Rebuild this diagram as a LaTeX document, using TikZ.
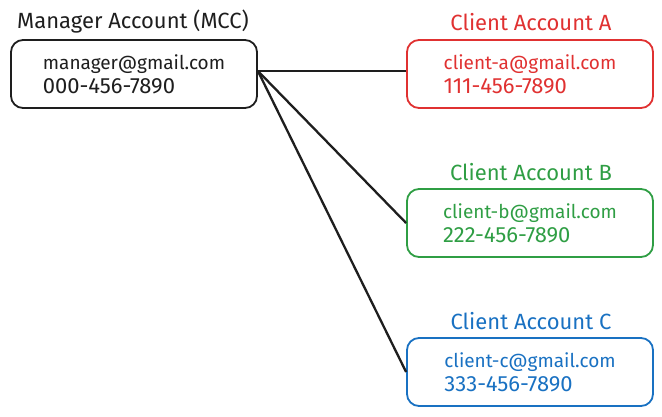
\documentclass[tikz,border=0pt]{standalone}
\usepackage{fontspec}
\setmainfont{Fira Sans}
\usetikzlibrary{positioning}
\definecolor{mccblack}{HTML}{1E1E1E}
\definecolor{clientred}{HTML}{E03131}
\definecolor{clientgreen}{HTML}{2F9E44}
\definecolor{clientblue}{HTML}{1971C2}
\newcommand{\phonenum}[1]{{\fontsize{22}{24}\selectfont #1}}
\begin{document}
\begin{tikzpicture}[x=1pt,y=-1pt,
	account/.style={draw, line width=1.8pt, rounded corners=12pt, minimum width=246pt, minimum height=68pt, align=left, font=\fontsize{19}{24}\selectfont},
	heading/.style={font=\fontsize{22}{24}\selectfont},
	link/.style={draw=mccblack, line width=2.3pt}]
	\useasboundingbox (0,0) rectangle (662,416);
	\node[account, draw=mccblack, text=mccblack] (manager) at (134,74) {manager@gmail.com\\\phonenum{000-456-7890}};
	\node[account, draw=clientred, text=clientred] (clienta) at (530,74) {client-a@gmail.com\\\phonenum{111-456-7890}};
	\node[account, draw=clientgreen, text=clientgreen] (clientb) at (530,223) {client-b@gmail.com\\\phonenum{222-456-7890}};
	\node[account, draw=clientblue, text=clientblue] (clientc) at (530,372) {client-c@gmail.com\\\phonenum{333-456-7890}};
	\node[heading, text=mccblack] (managertitle) at (133,22) {Manager Account (MCC)};
	\node[heading, text=clientred] (clientatitle) at (531,22) {Client Account A};
	\node[heading, text=clientgreen] (clientbtitle) at (531,172) {Client Account B};
	\node[heading, text=clientblue] (clientctitle) at (531,321) {Client Account C};
	\draw[link] ([yshift=3pt]manager.east) -- ([yshift=3pt]clienta.west);
	\draw[link] ([yshift=3pt]manager.east) -- (clientb.west);
	\draw[link] ([yshift=3pt]manager.east) -- (clientc.west);
\end{tikzpicture}
\end{document}
